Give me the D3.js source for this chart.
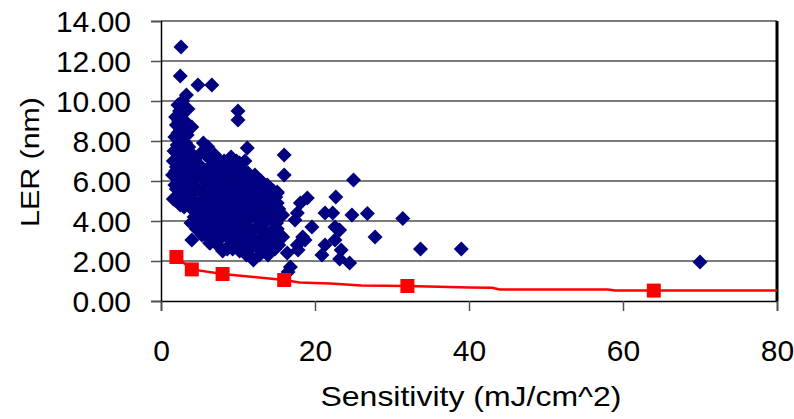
<!DOCTYPE html>
<html><head><meta charset="utf-8">
<script src="https://cdn.jsdelivr.net/npm/d3@7"></script>
<style>
html,body{margin:0;padding:0;background:#fff;}
svg{display:block;font-family:"Liberation Sans",Arial,sans-serif;}
</style></head>
<body>
<svg id="chart" width="794" height="419"></svg>
<script>
// Axis ticks
const xTicks = [0, 20, 40, 60, 80];
const yTicks = [0, 2, 4, 6, 8, 10, 12, 14];

// Scatter series: [sensitivity (mJ/cm^2), LER (nm)]
const scatterPoints = [
  [2.6,12.7],[2.5,11.25],[4.8,10.8],[6.6,10.8],[3.3,10.3],[2.8,10.0],[2.2,9.8],[3.5,9.6],
  [1.9,9.2],[2.7,9.3],[3.1,9.0],[2.0,8.8],[2.5,8.6],[3.4,8.5],[4.0,8.7],[1.8,8.2],
  [2.6,8.1],[3.4,8.3],[2.1,7.8],[1.7,7.5],[2.9,7.6],[3.6,7.7],[2.3,7.2],[1.6,7.0],
  [3.0,7.0],[4.3,7.2],[2.0,6.7],[2.7,6.5],[1.5,6.3],[3.5,6.6],[4.6,6.9],[2.2,6.1],
  [3.1,6.0],[1.8,5.8],[2.6,5.5],[4.0,6.2],[1.6,5.1],[2.5,4.8],[3.3,5.2],[2.0,5.0],
  [3.8,5.6],[4.4,5.0],[2.3,5.3],[4.0,4.6],[3.9,3.9],[4.0,3.05],[5.3,3.3],[6.4,2.9],
  [8.0,2.5],[8.6,2.6],
  [2.4,9.5],[3.0,9.7],[2.3,9.0],[2.9,8.8],[2.2,8.4],[3.0,8.3],[2.5,7.9],[3.2,7.9],
  [2.0,7.4],[2.6,7.4],[3.3,7.3],[3.9,7.4],[2.4,6.9],[3.2,6.8],[3.9,6.9],[1.9,6.5],
  [2.4,6.4],[3.1,6.4],[3.9,6.5],[2.6,6.0],[3.5,6.1],[4.4,6.1],[2.0,5.6],[3.0,5.6],
  [3.5,5.0],[3.0,4.7],[4.2,5.4],[4.3,4.2],[4.6,3.6],[4.8,4.8],
  [5.5,7.9],[6.1,7.7],[7.0,7.3],[5.2,7.4],[6.5,7.1],[7.8,6.9],[11.2,7.65],[9.8,7.0],[10.2,6.9],
  [5.0,6.8],[6.0,6.6],[7.5,6.5],[8.6,6.6],[9.5,6.8],[10.4,6.6],[11.3,6.4],[12.2,6.3],[13.0,6.0],[4.7,6.4],
  [5.4,6.1],[6.6,6.2],[7.3,5.9],[8.2,6.2],[9.0,5.8],[10.0,6.1],[10.8,5.9],[11.9,5.8],[12.9,5.65],[13.8,5.8],[14.6,5.5],
  [4.8,5.6],[5.9,5.5],[6.9,5.4],[7.8,5.6],[8.7,5.3],[9.6,5.5],[10.5,5.2],[11.4,5.4],[12.3,5.1],[13.3,5.3],[14.3,5.0],[15.1,5.4],
  [5.3,5.0],[6.3,4.9],[7.2,5.1],[8.1,4.8],[9.1,5.0],[10.0,4.7],[11.0,4.9],[11.9,4.6],[12.8,4.8],[13.7,4.5],[14.5,4.95],[15.3,4.6],
  [4.6,4.5],[5.7,4.4],[6.7,4.6],[7.6,4.3],[8.5,4.5],[9.5,4.2],[10.4,4.4],[11.3,4.1],[12.3,4.3],[13.2,4.0],[14.1,4.2],[15.0,3.9],[15.8,4.3],
  [5.0,4.0],[6.1,3.9],[7.1,4.1],[8.0,3.8],[9.0,3.9],[9.9,3.6],[10.8,3.8],[11.8,3.5],[12.7,3.7],[13.6,3.4],[14.6,3.6],[15.5,3.3],
  [5.5,3.5],[6.6,3.4],[7.5,3.6],[8.4,3.3],[9.4,3.4],[10.3,3.1],[11.2,3.3],[12.2,3.0],[13.1,3.2],[14.0,2.9],[15.0,3.1],[15.8,3.2],
  [6.3,2.9],[7.2,3.0],[8.9,2.8],[9.8,2.9],[10.7,2.7],[11.6,2.6],[12.0,2.05],[13.0,2.5],[13.9,2.3],[14.8,2.6],
  [5.8,7.3],[6.8,6.8],[8.2,7.0],[9.1,7.2],[10.9,7.0],[5.6,6.4],[7.0,6.3],[8.0,6.5],[9.0,6.4],[9.9,6.4],
  [10.9,6.3],[11.8,6.1],[12.6,6.0],[6.1,5.8],[7.0,5.7],[8.5,5.8],[9.6,6.0],[10.3,5.7],[11.3,5.7],[12.4,5.6],
  [13.3,5.7],[14.2,5.4],[5.6,5.3],[6.6,5.2],[7.6,5.3],[8.2,5.1],[9.2,5.4],[10.1,5.3],[11.1,5.1],[12.0,5.2],
  [12.9,5.1],[13.9,4.9],[14.9,5.2],[5.0,4.6],[6.0,4.7],[6.9,4.9],[7.8,4.7],[8.7,4.8],[9.6,4.6],[10.6,4.6],
  [11.5,4.7],[12.5,4.6],[13.4,4.6],[14.4,4.5],[15.3,4.2],[5.4,4.2],[6.4,4.2],[7.3,4.4],[8.2,4.2],[9.1,4.4],
  [10.0,4.1],[10.9,4.3],[11.8,4.2],[12.7,4.1],[13.7,4.0],[14.6,4.0],[5.7,3.7],[6.6,3.8],[7.5,3.9],[8.5,3.7],
  [9.4,3.8],[10.3,3.5],[11.3,3.6],[12.2,3.6],[13.1,3.5],[14.1,3.3],[15.1,3.6],[6.0,3.2],[7.0,3.3],[7.9,3.2],
  [8.9,3.1],[9.8,3.2],[10.8,3.0],[11.7,3.1],[12.6,2.8],[13.5,2.9],[14.5,3.0],[7.6,2.7],[9.3,2.6],[10.2,2.5],
  [11.1,2.3],[12.8,2.3],[14.3,2.5],[15.3,2.8],
  [16.4,2.4],[16.8,1.7],[16.5,1.45],[17.7,2.8],[18.4,3.2],[17.8,2.55],[18.7,3.05],[16.0,7.3],[16.0,6.3],
  [15.1,5.45],[15.1,4.9],[19.0,5.15],[18.1,4.9],[17.7,4.4],[17.4,4.05],[19.6,3.7],[22.7,5.2],[21.3,4.4],
  [22.3,4.4],[22.6,3.7],[21.3,2.8],[20.9,2.3],[22.6,3.05],[23.2,3.55],[23.4,2.55],[23.2,2.1],[24.5,1.9],
  [25.0,6.05],[24.8,4.3],[26.8,4.37],[31.4,4.13],[27.8,3.2],[33.7,2.6],[39.0,2.6],[70.0,1.95],
  [10.0,9.5],[10.0,9.05]
];

// Red series: line and square markers
const lineSens = [2, 4, 8, 16, 18, 22, 26, 32, 40, 43, 44, 58, 59, 64, 80];
const lineLER  = [2.2, 1.58, 1.35, 1.05, 0.92, 0.87, 0.78, 0.75, 0.67, 0.66, 0.58, 0.58, 0.52, 0.52, 0.52];
const markSens = [2, 4, 8, 16, 32, 64];
const markLER  = [2.2, 1.58, 1.35, 1.05, 0.75, 0.52];

const svg = d3.select("#chart");
const x = d3.scaleLinear().domain([0, 80]).range([161, 777]);
const y = d3.scaleLinear().domain([0, 14]).range([301, 21]);

// gridlines
svg.append("g").selectAll("line").data(yTicks.filter(d => d > 0)).join("line")
  .attr("x1", x(0)).attr("x2", x(80))
  .attr("y1", d => y(d)).attr("y2", d => y(d))
  .attr("stroke", "#505050").attr("stroke-width", 1.5);

// y axis
const yAxis = d3.axisLeft(y).tickValues(yTicks).tickSize(10).tickPadding(20)
  .tickFormat(d3.format(".2f"));
const gy = svg.append("g").attr("transform", `translate(${x(0)},0)`).call(yAxis);
gy.select(".domain").attr("stroke", "#000").attr("stroke-width", 1.5);
gy.selectAll(".tick line").attr("stroke", "#505050").attr("stroke-width", 1.5);
gy.selectAll(".tick text").attr("font-size", 30).attr("fill", "#000")
  .attr("font-family", '"Liberation Sans",Arial,sans-serif').attr("dy", "0.36em");

// x axis
const xAxis = d3.axisBottom(x).tickValues(xTicks).tickSize(10).tickPadding(29);
const gx = svg.append("g").attr("transform", `translate(0,${y(0)})`).call(xAxis);
gx.select(".domain").attr("stroke", "#000").attr("stroke-width", 1.5);
gx.selectAll(".tick line").attr("stroke", "#505050").attr("stroke-width", 1.5);
gx.selectAll(".tick text").attr("font-size", 30).attr("fill", "#000")
  .attr("font-family", '"Liberation Sans",Arial,sans-serif');

// right border of plot area
svg.append("line").attr("x1", x(80)).attr("x2", x(80)).attr("y1", y(14)).attr("y2", y(0))
  .attr("stroke", "#000").attr("stroke-width", 3);

// scatter diamonds
const diamond = "M0,-7.5L7.5,0L0,7.5L-7.5,0Z";
svg.append("g").selectAll("path").data(scatterPoints).join("path")
  .attr("d", diamond)
  .attr("transform", d => `translate(${x(d[0])},${y(d[1])})`)
  .attr("fill", "#000080");

// red line
const lineData = lineSens.map((s, i) => [s, lineLER[i]]);
svg.append("path").datum(lineData)
  .attr("d", d3.line().x(d => x(d[0])).y(d => y(d[1])))
  .attr("fill", "none").attr("stroke", "#ff0000").attr("stroke-width", 2.5);

// red squares
const markData = markSens.map((s, i) => [s, markLER[i]]);
svg.append("g").selectAll("rect").data(markData).join("rect")
  .attr("x", d => x(d[0]) - 7).attr("y", d => y(d[1]) - 7)
  .attr("width", 14).attr("height", 14).attr("fill", "#ff0000");

// axis titles
svg.append("text").attr("x", 471).attr("y", 406).attr("text-anchor", "middle")
  .attr("font-size", 28).attr("textLength", 301).attr("lengthAdjust", "spacingAndGlyphs")
  .text("Sensitivity (mJ/cm^2)");
svg.append("text").attr("transform", "translate(39,162) rotate(-90)").attr("text-anchor", "middle")
  .attr("font-size", 26).attr("textLength", 130).attr("lengthAdjust", "spacingAndGlyphs")
  .text("LER (nm)");
</script>
</body></html>
